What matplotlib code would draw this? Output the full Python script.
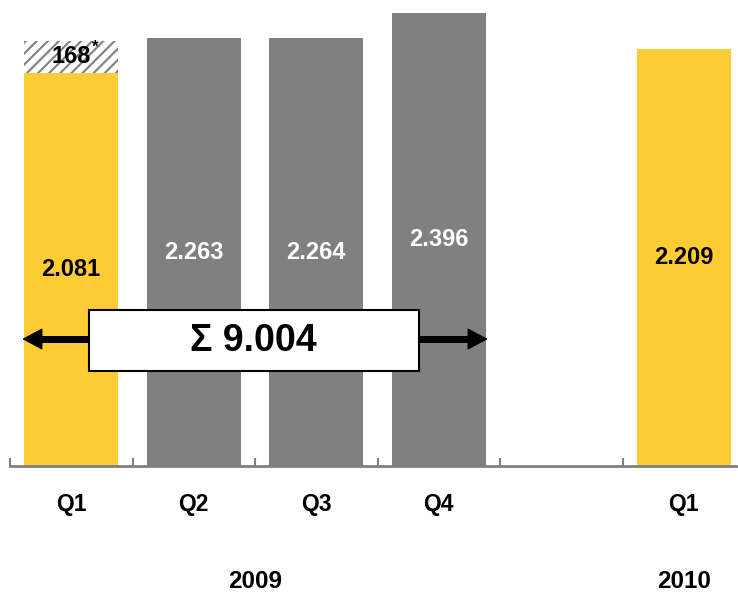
import numpy as np
import matplotlib
matplotlib.use("Agg")
import matplotlib.pyplot as plt
from matplotlib.patches import Rectangle

plt.rcParams['font.family'] = ['Liberation Sans', 'DejaVu Sans']
plt.rcParams['hatch.linewidth'] = 1.5

# data
quarters = ["Q1", "Q2", "Q3", "Q4", "Q1"]
positions = [0, 1, 2, 3, 5]
values = [2081, 2263, 2264, 2396, 2209]
labels = ["2.081", "2.263", "2.264", "2.396", "2.209"]
bar_colors = ["#FFCC33", "#808080", "#808080", "#808080", "#FFCC33"]
text_colors = ["black", "white", "white", "white", "black"]
extra_q1 = 168
extra_label = "168"
years = ["2009", "2010"]
year_pos = [1.5, 5]
total_label = "\u03a3 9.004"

fig = plt.figure(figsize=(7.38, 5.93), dpi=100)
ax = fig.add_axes([10 / 738, 127 / 593, 735 / 738, 466 / 593])

bw = 0.77
ax.bar(positions, values, width=bw, color=bar_colors, zorder=2)
# hatched extra part on Q1 2009
ax.bar([0], [extra_q1], bottom=[values[0]], width=bw, color="white",
       edgecolor="#808080", linewidth=0, hatch="///", zorder=2)

for x, v, lab, tc in zip(positions, values, labels, text_colors):
    ax.text(x, v / 2, lab, ha="center", va="center", fontsize=17,
            fontweight="bold", color=tc, zorder=3)

ax.text(0, values[0] + extra_q1 / 2, extra_label, ha="center", va="center",
        fontsize=17, fontweight="bold", color="black", zorder=3)
ax.annotate("*", xy=(0, values[0] + extra_q1 / 2), xytext=(17, 7),
            textcoords="offset points", ha="center", va="center",
            fontsize=12, fontweight="bold", zorder=3)

# sum arrow and box
arrow_y = 672
ax.hlines(arrow_y, -0.3, 3.3, color="black", lw=5, zorder=4)
ax.annotate("", xy=(-0.4, arrow_y), xytext=(3.4, arrow_y),
            arrowprops=dict(arrowstyle="<|-|>,head_length=1.3,head_width=0.7",
                            lw=1, color="black", mutation_scale=10,
                            shrinkA=0, shrinkB=0), zorder=4)
box = Rectangle((0.145, 503), 2.69, 322, facecolor="white",
                edgecolor="black", linewidth=1.5, zorder=5)
ax.add_patch(box)
ax.text(1.49, 664, total_label, ha="center", va="center", fontsize=27,
        fontweight="bold", zorder=6)

# axes
ax.set_xlim(-0.5, 5.5)
ax.set_ylim(0, 2466)
for s in ["top", "left", "right"]:
    ax.spines[s].set_visible(False)
ax.spines["bottom"].set_color("#808080")
ax.spines["bottom"].set_linewidth(2)
ax.set_yticks([])
ax.set_xticks(np.arange(-0.5, 5.0, 1.0))
ax.set_xticklabels([])
ax.tick_params(axis="x", direction="in", length=6, width=1.5, color="#808080")

for x, q in zip(positions, quarters):
    ax.text(x, -205, q, ha="center", va="center", fontsize=16.5,
            fontweight="bold", clip_on=False)
for x, y in zip(year_pos, years):
    ax.text(x, -610, y, ha="center", va="center", fontsize=17.5,
            fontweight="bold", clip_on=False)

fig.savefig("out.png", dpi=100)
